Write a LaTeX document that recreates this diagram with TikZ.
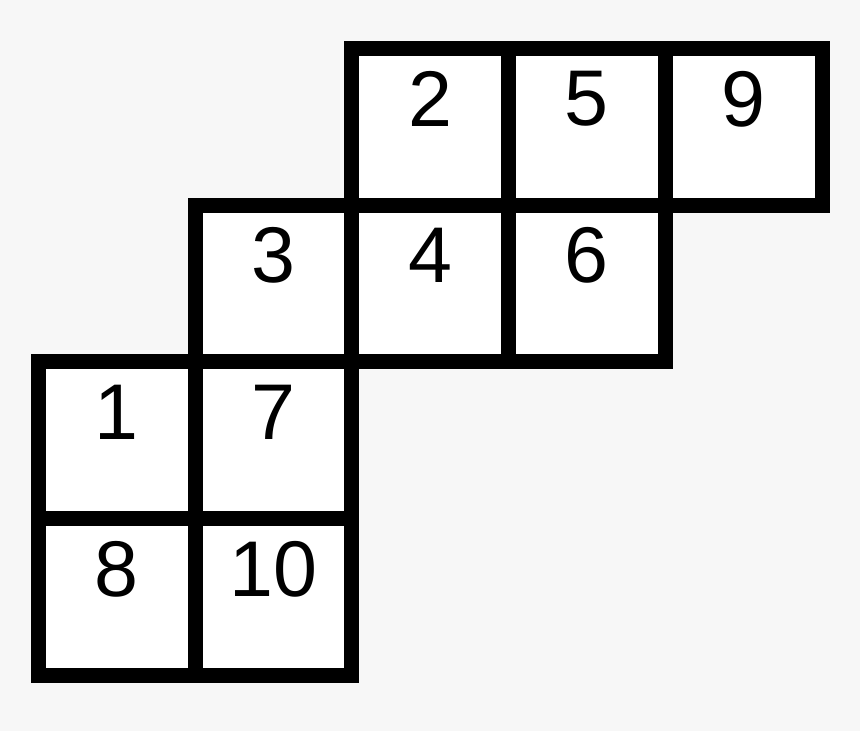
\documentclass[tikz,border=0pt]{standalone}
\usepackage{fontspec}
\setmainfont{Liberation Sans}
\definecolor{bgc}{HTML}{F7F7F7}
\begin{document}
\begin{tikzpicture}[x=1pt,y=-1pt,
  cell/.style={draw=black,fill=white,line width=15pt,minimum size=156.7pt,inner sep=0pt,outer sep=0pt,rectangle},
  num/.style={font=\fontsize{79}{79}\selectfont,inner sep=0pt,text=black}]
\fill[bgc] (0,0) rectangle (860,731);
\useasboundingbox (0,0) rectangle (860,731);
\def\cw{156.7}
% cells: name, col, row
\foreach \n/\c/\r in {2/2/0,5/3/0,9/4/0,3/1/1,4/2/1,6/3/1,1/0/2,7/1/2,8/0/3,10/1/3}{
  \node[cell] (c\n) at ({38.5+\cw*(\c+0.5)},{48.5+\cw*(\r+0.5)}) {};
}
\foreach \n in {2,5,9,3,4,6,1,7,8,10}{
  \node[num] (t\n) at ([yshift=28pt]c\n.center) {\n};
}
\end{tikzpicture}
\end{document}
